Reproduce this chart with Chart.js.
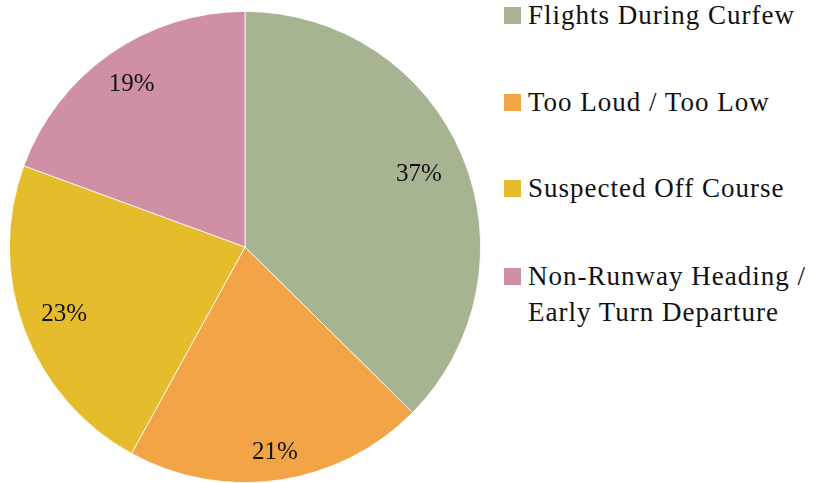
<!DOCTYPE html>
<html>
<head>
<meta charset="utf-8">
<script src="https://cdn.jsdelivr.net/npm/chart.js@4"></script>
<style>
  html, body { margin: 0; padding: 0; background: #fff; }
  body { width: 814px; height: 483px; position: relative; overflow: hidden; }
  #pieWrap { position: absolute; left: 0; top: 0; width: 490px; height: 483px; }
  #legend { position: absolute; left: 504px; top: 0; font-family: "Liberation Serif", serif; font-size: 27px; letter-spacing: 1px; color: #111; }
  .legend-item { position: absolute; left: 0; white-space: nowrap; }
  .legend-box { position: absolute; left: 0; width: 17px; height: 17px; }
  .legend-text { position: absolute; left: 24px; line-height: 36px; }
</style>
</head>
<body>
<div id="pieWrap"><canvas id="pieChart" width="490" height="483"></canvas></div>
<div id="legend"></div>
<script>
// ===== DATA =====
const categories = [
    "Flights During Curfew",
    "Too Loud / Too Low",
    "Suspected Off Course",
    ["Non-Runway Heading /", "Early Turn Departure"]
];
const shares = [37.4, 20.6, 22.6, 19.4];
const colors = ["#a6b491", "#f2a446", "#e4bc2c", "#cf90a6"];

// label distance from centre, as a fraction of the radius
const labelRadius = [0.80, 0.88, 0.82, 0.84];

// ===== PERCENT LABELS ON SLICES =====
const sliceLabels = {
    id: "sliceLabels",
    afterDatasetsDraw(chart) {
        const ctx = chart.ctx;
        const meta = chart.getDatasetMeta(0);
        const data = chart.data.datasets[0].data;
        const total = data.reduce((a, b) => a + b, 0);
        ctx.save();
        ctx.font = "25px 'Liberation Serif', serif";
        ctx.fillStyle = "#111";
        ctx.textAlign = "center";
        ctx.textBaseline = "middle";
        meta.data.forEach((arc, i) => {
            const p = arc.getProps(["x", "y", "startAngle", "endAngle", "outerRadius"], true);
            const mid = (p.startAngle + p.endAngle) / 2;
            const r = p.outerRadius * labelRadius[i];
            const text = Math.round(data[i] / total * 100) + "%";
            ctx.fillText(text, p.x + Math.cos(mid) * r, p.y + Math.sin(mid) * r);
        });
        ctx.restore();
    }
};

// ===== CHART =====
new Chart(document.getElementById("pieChart"), {
    type: "pie",
    data: {
        labels: categories,
        datasets: [{
            data: shares,
            backgroundColor: colors,
            borderColor: "#ffffff",
            borderWidth: 0.8
        }]
    },
    options: {
        responsive: false,
        animation: false,
        layout: { padding: { top: 11, bottom: 0, left: 9, right: 9 } },
        plugins: {
            legend: { display: false },
            tooltip: { enabled: false }
        }
    },
    plugins: [sliceLabels]
});

// ===== LEGEND =====
const legendTops = [0, 87, 173, 261];
const legend = document.getElementById("legend");
legend.innerHTML = categories.map((c, i) => {
    const lines = Array.isArray(c) ? c : [c];
    return `
        <div class="legend-item" style="top:${legendTops[i]}px">
            <span class="legend-box" style="top:7px; background:${colors[i]}"></span>
            <span class="legend-text" style="top:-3px">${lines.join("<br>")}</span>
        </div>`;
}).join("");
</script>
</body>
</html>
